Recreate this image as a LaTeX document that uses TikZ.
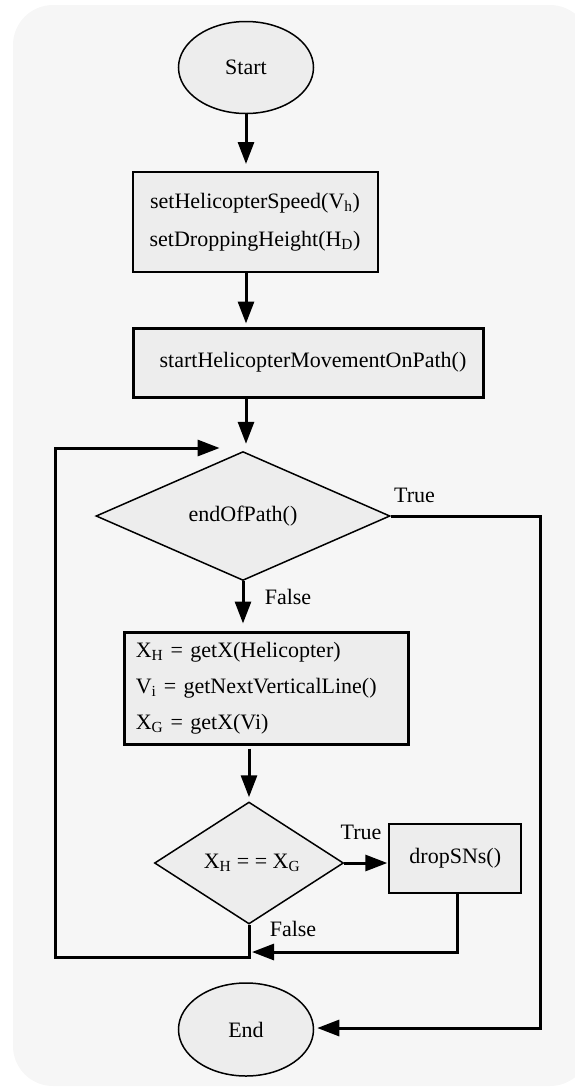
\documentclass[tikz,border=0pt]{standalone}
\usepackage{fontspec}
\setmainfont{Liberation Serif}
\usetikzlibrary{shapes.geometric,arrows.meta}
\definecolor{bgcol}{HTML}{F6F6F6}
\definecolor{nodefill}{HTML}{EDEDED}
\tikzset{
  every node/.style={font=\fontsize{22}{36}\selectfont},
  term/.style={ellipse,draw,fill=nodefill,line width=1.5pt,inner sep=0pt,minimum width=135pt,minimum height=92pt},
  procbox/.style={rectangle,draw,fill=nodefill,line width=2pt,inner sep=0pt},
  thickbox/.style={procbox,line width=3pt},
  decision/.style={diamond,draw,fill=nodefill,line width=1.5pt,inner sep=0pt},
  conn/.style={line width=3pt,-{Triangle[length=22pt,width=16pt]}},
  plainconn/.style={line width=3pt},
  lbl/.style={inner sep=0pt}
}
\begin{document}
\begin{tikzpicture}[x=1pt,y=-1pt]
\useasboundingbox (0,0) rectangle (574,1088);
\fill[bgcol,rounded corners=40pt] (13,5) rectangle (590,1086);

\node[term] (start) at (246,67.5) {Start};
\node[procbox,minimum width=245pt,minimum height=100pt,align=center,font=\fontsize{22}{38}\selectfont] (box1) at (255,222)
  {setHelicopterSpeed(V\textsubscript{h})\\setDroppingHeight(H\textsubscript{D})};
\node[thickbox,minimum width=350pt,minimum height=69pt] (box2) at (308,362.5) {\hspace{10pt}startHelicopterMovementOnPath()};
\node[decision,minimum width=294pt,minimum height=123pt] (d1) at (243,516) {endOfPath()};
\node[thickbox,minimum height=112pt,text width=262pt,inner xsep=11pt,align=left] (box3) at (266.8,688)
  {X\textsubscript{H} = getX(Helicopter)\\V\textsubscript{i} = getNextVerticalLine()\\X\textsubscript{G} = getX(Vi)};
\node[decision,minimum width=189pt,minimum height=122pt] (d2) at (249,863) {\hspace{6pt}X\textsubscript{H} = = X\textsubscript{G}};
\node[procbox,minimum width=132pt,minimum height=69pt] (drop) at (455.3,858.5) {dropSNs()};
\node[term,minimum height=93pt] (end) at (246,1029.5) {End};

\coordinate (looptip) at (219.6,448);
\coordinate (loopc) at (55,957);
\coordinate (rightc) at (540,1028);
\coordinate (ret) at (457.6,952);

\draw[conn,shorten >=7pt] (start.south) -- (start.south |- box1.north);
\draw[conn,shorten >=3pt] (box1.south -| start) -- (box2.north -| start);
\draw[conn,shorten >=7pt] (box2.south -| start) -- (d1.north -| start);
\draw[conn,shorten >=7pt] (d1.south) -- (d1.south |- box3.north);
\draw[conn,shorten <=3pt,shorten >=4pt] (d2.north |- box3.south) -- (d2.north);
\draw[conn,shorten >=1pt] (d2.east) -- (d2.east -| drop.west);
\draw[conn] (drop.south -| ret) |- ([xshift=3pt]d2.south |- ret);
\draw[conn] (d2.south) |- (loopc) |- (looptip);
\draw[conn,shorten >=3pt] (d1.east) -| (rightc) -- (rightc -| end.east);

\node[lbl] (t1) at (414.6,495) {True};
\node[lbl] (f1) at (288,597) {False};
\node[lbl] (t2) at (361,832) {True};
\node[lbl] (f2) at (293,929) {False};
\end{tikzpicture}
\end{document}
